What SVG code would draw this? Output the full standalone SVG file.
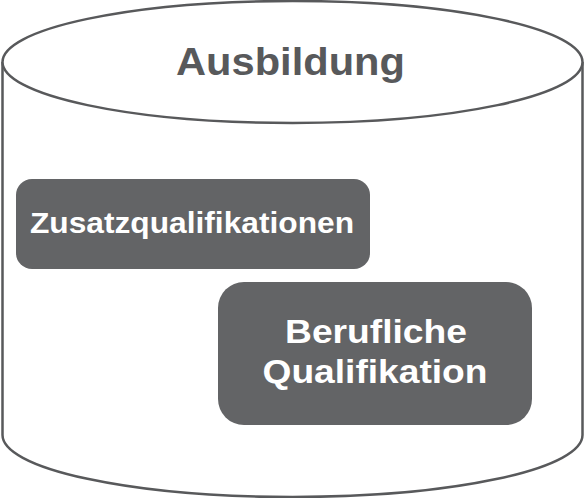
<svg xmlns="http://www.w3.org/2000/svg" width="585" height="498" viewBox="0 0 585 498">
<style>
.cyl{fill:#ffffff;stroke:#58595b;stroke-width:2.5}
.box{fill:#636466}
.t{font-family:"Liberation Sans",Arial,sans-serif;font-weight:bold;text-anchor:middle}
.w{fill:#ffffff}
</style>
<rect width="585" height="498" fill="#ffffff"/>
<g id="cylinder">
<path class="cyl" d="M2.5,62 L2.5,435 A290,62 0 0 0 582.5,435 L582.5,62"/>
<ellipse class="cyl" cx="292.5" cy="62" rx="290" ry="61"/>
<text class="t" x="290.5" y="75" font-size="39" fill="#58595b" textLength="229" lengthAdjust="spacingAndGlyphs">Ausbildung</text>
</g>
<g id="zusatz">
<rect class="box" x="16" y="179" width="354" height="90" rx="16"/>
<text class="t w" x="192" y="233" font-size="30" textLength="324" lengthAdjust="spacingAndGlyphs">Zusatzqualifikationen</text>
</g>
<g id="beruflich">
<rect class="box" x="218" y="282" width="314" height="143" rx="26"/>
<text class="t w" x="376" y="343" font-size="33" textLength="182" lengthAdjust="spacingAndGlyphs">Berufliche</text>
<text class="t w" x="375" y="383" font-size="33" textLength="225" lengthAdjust="spacingAndGlyphs">Qualifikation</text>
</g>
<g id="connectors"></g>
</svg>
